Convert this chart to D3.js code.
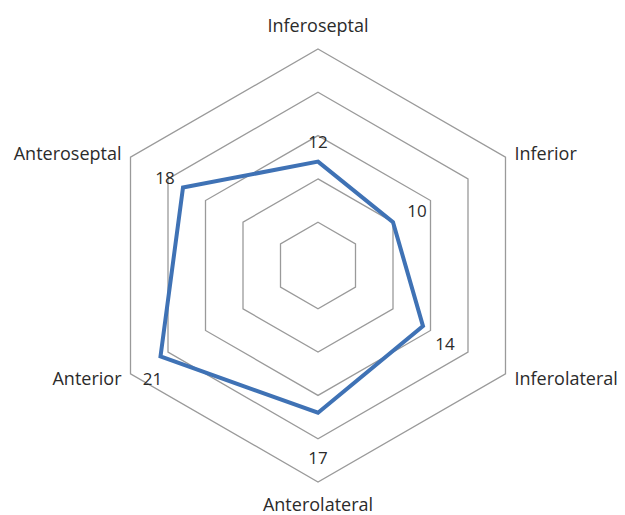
<!DOCTYPE html>
<html>
<head>
<meta charset="utf-8">
<script src="https://cdn.jsdelivr.net/npm/d3@7"></script>
<style>
  body { margin: 0; background: #fff; }
  text { font-family: "Open Sans", sans-serif; fill: #2b2b2b; }
</style>
</head>
<body>
<div id="chart"></div>
<script>
// segments, clockwise from the top
var segments = ['Inferoseptal', 'Inferior', 'Inferolateral', 'Anterolateral', 'Anterior', 'Anteroseptal'];
var values = [12, 10, 14, 17, 21, 18];
var gridTicks = [5, 10, 15, 20, 25];
var maxValue = 25;

// where each value label sits relative to its point (Excel put them a bit irregularly)
var labelNudge = [[0, -20], [24, -12], [22, 17], [0, 45], [-8, 22], [-18, -10]];

var width = 625, height = 515;
var cx = 318, cy = 265.5, radius = 216.5;

var svg = d3.select('#chart').append('svg')
    .attr('width', width)
    .attr('height', height);

var g = svg.append('g')
    .attr('transform', 'translate(' + cx + ',' + cy + ')');

var r = d3.scaleLinear().domain([0, maxValue]).range([0, radius]);
var angle = function(i) { return i * 2 * Math.PI / segments.length; };

// hexagon grid
g.selectAll('path.grid')
    .data(gridTicks)
    .enter()
        .append('path')
        .attr('class', 'grid')
        .attr('d', function(t) {
            return d3.lineRadial()
                .angle(function(d, i) { return angle(i); })
                .radius(r(t))
                .curve(d3.curveLinearClosed)(segments);
        })
        .attr('fill', 'none')
        .attr('stroke', '#9a9a9a')
        .attr('stroke-width', 1.3);

// the series
g.append('path')
    .datum(values)
    .attr('d', d3.lineRadial()
        .angle(function(d, i) { return angle(i); })
        .radius(function(d) { return r(d); })
        .curve(d3.curveLinearClosed))
    .attr('fill', 'none')
    .attr('stroke', '#3f72b5')
    .attr('stroke-width', 4)
    .attr('stroke-linejoin', 'miter');

// value labels
g.selectAll('text.val')
    .data(values)
    .enter()
        .append('text')
        .attr('class', 'val')
        .attr('x', function(d, i) { return r(d) * Math.sin(angle(i)) + labelNudge[i][0]; })
        .attr('y', function(d, i) { return -r(d) * Math.cos(angle(i)) + labelNudge[i][1]; })
        .attr('text-anchor', 'middle')
        .attr('dominant-baseline', 'central')
        .style('font-size', '17px')
        .text(function(d) { return d; });

// segment names
g.selectAll('text.cat')
    .data(segments)
    .enter()
        .append('text')
        .attr('class', 'cat')
        .attr('x', function(d, i) {
            var s = Math.sin(angle(i));
            var x = r(maxValue) * s;
            if (Math.abs(s) < 0.1) return x;
            return x + (s > 0 ? 9 : -9);
        })
        .attr('y', function(d, i) {
            var s = Math.sin(angle(i)), c = Math.cos(angle(i));
            if (Math.abs(s) < 0.1) return -r(maxValue) * c - c * (c > 0 ? 24 : 22);
            return -r(maxValue) * c - c * 8;
        })
        .attr('text-anchor', function(d, i) {
            var s = Math.sin(angle(i));
            if (Math.abs(s) < 0.1) return 'middle';
            return s > 0 ? 'start' : 'end';
        })
        .attr('dominant-baseline', 'central')
        .style('font-size', '18px')
        .text(function(d) { return d; });
</script>
</body>
</html>
